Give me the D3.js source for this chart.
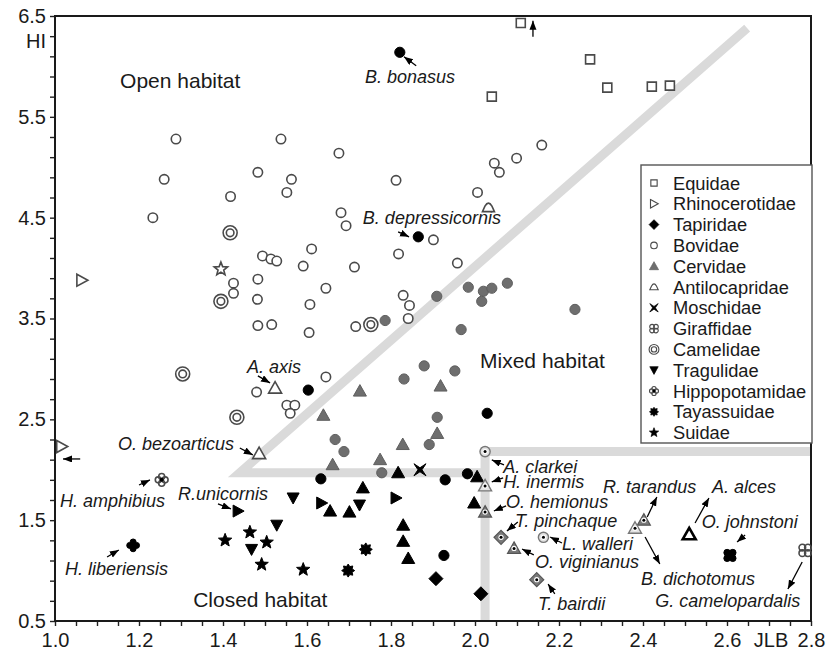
<!DOCTYPE html>
<html>
<head>
<meta charset="utf-8">
<script src="https://cdnjs.cloudflare.com/ajax/libs/d3/7.8.5/d3.min.js"></script>
<style>
    body { margin: 0; background: #fff; }
    svg text { font-family: "Liberation Sans", Arial, sans-serif; fill: #1a1a1a; }
    .species { font-style: italic; font-size: 18px; }
    .region { font-size: 21px; }
    .legend-label { font-size: 18.3px; }
</style>
</head>
<body>
<div id="chart"></div>
<script>
// [JLB, HI, habitat group]  O = open, M = mixed, C = closed, * = marked, B = bold outline
const equidae = [[2.109, 6.43, "O"], [2.274, 6.07, "O"], [2.040, 5.70, "O"], [2.315, 5.79, "O"], [2.421, 5.80, "O"], [2.464, 5.81, "O"]];
const rhinocerotidae = [[1.064, 3.88, "O"], [1.016, 2.23, "O"], [1.436, 1.59, "C"], [1.812, 1.72, "C"], [1.635, 1.67, "C"]];
const tapiridae = [[1.907, 0.92, "C"], [2.014, 0.77, "C"], [2.062, 1.33, "M*"], [2.147, 0.91, "M*"]];
const bovidae = [
    [1.288, 5.28, "O"], [1.538, 5.28, "O"], [1.676, 5.14, "O"], [1.483, 4.95, "O"], [1.260, 4.88, "O"],
    [1.563, 4.88, "O"], [1.552, 4.75, "O"], [1.418, 4.71, "O"], [1.812, 4.87, "O"], [1.681, 4.55, "O"],
    [1.233, 4.50, "O"], [1.693, 4.42, "O"], [1.901, 4.28, "O"], [1.818, 4.14, "O"], [1.611, 4.19, "O"],
    [1.591, 4.02, "O"], [1.713, 4.01, "O"], [1.494, 4.12, "O"], [1.514, 4.09, "O"], [1.528, 4.07, "O"],
    [1.425, 3.85, "O"], [1.425, 3.75, "O"], [1.483, 3.89, "O"], [1.482, 3.69, "O"], [1.645, 3.80, "O"],
    [1.607, 3.64, "O"], [1.829, 3.73, "O"], [1.844, 3.63, "O"], [1.483, 3.43, "O"], [1.516, 3.44, "O"],
    [1.605, 3.36, "O"], [1.716, 3.42, "O"], [1.841, 3.50, "O"], [1.480, 2.77, "O"], [1.645, 2.92, "O"],
    [1.552, 2.64, "O"], [1.571, 2.64, "O"], [1.560, 2.56, "O"], [2.159, 5.22, "O"], [2.099, 5.09, "O"],
    [2.046, 5.04, "O"], [2.058, 4.95, "O"], [2.006, 4.75, "O"], [1.958, 4.05, "O"],
    [1.786, 3.48, "M"], [1.909, 3.72, "M"], [1.984, 3.81, "M"], [2.020, 3.77, "M"], [2.040, 3.80, "M"],
    [2.016, 3.67, "M"], [2.077, 3.85, "M"], [2.238, 3.59, "M"], [1.967, 3.39, "M"], [1.879, 3.03, "M"],
    [1.831, 2.90, "M"], [1.952, 2.98, "M"], [1.910, 2.52, "M"], [1.891, 2.25, "M"], [1.667, 2.30, "M"],
    [1.688, 2.18, "M"], [1.778, 1.97, "M"],
    [1.821, 6.14, "C"], [1.865, 4.31, "C"], [1.603, 2.79, "C"], [2.029, 2.56, "C"], [1.633, 1.91, "C"],
    [1.929, 1.90, "C"], [1.982, 1.96, "C"], [1.926, 1.15, "C"],
    [2.024, 2.18, "O*"], [2.163, 1.33, "O*"]
];
const cervidae = [
    [1.726, 2.78, "M"], [1.639, 2.54, "M"], [1.918, 2.83, "M"], [1.910, 2.36, "M"], [1.828, 2.25, "M"],
    [1.661, 2.05, "M"], [1.774, 2.10, "M"],
    [1.524, 2.81, "O"], [1.486, 2.16, "O"],
    [1.817, 1.97, "C"], [2.005, 1.93, "C"], [1.998, 1.67, "C"], [1.655, 1.59, "C"], [1.701, 1.58, "C"],
    [1.733, 1.82, "C"], [1.829, 1.45, "C"], [1.829, 1.29, "C"], [1.841, 1.12, "C"],
    [2.024, 1.84, "O*"], [2.024, 1.58, "M*"], [2.093, 1.22, "M*"], [2.402, 1.50, "M*"], [2.381, 1.42, "O*"],
    [2.510, 1.36, "B"]
];
const antilocapridae = [[2.032, 4.60, "O"]];
const moschidae = [[1.869, 2.00, "C"]];
const giraffidae = [[2.607, 1.15, "C"], [2.786, 1.20, "O"]];
const camelidae = [[1.417, 4.35, "O"], [1.395, 3.67, "O"], [1.752, 3.44, "O"], [1.304, 2.95, "O"], [1.433, 2.52, "O"]];
const tragulidae = [[1.567, 1.72, "C"], [1.725, 1.65, "C"], [1.528, 1.45, "C"], [1.468, 1.21, "C"]];
const hippopotamidae = [[1.254, 1.90, "O"], [1.186, 1.25, "C"]];
const tayassuidae = [[1.740, 1.21, "C"], [1.698, 1.00, "C"]];
const suidae = [[1.405, 1.30, "C"], [1.464, 1.38, "C"], [1.504, 1.28, "C"], [1.492, 1.06, "C"], [1.591, 1.01, "C"], [1.395, 3.99, "O"]];

// species names [text, JLB, HI] (text start, baseline)
const speciesLabels = [
    ["B. bonasus", 1.738, 5.837], ["B. depressicornis", 1.733, 4.439], ["A. axis", 1.457, 2.960],
    ["O. bezoarticus", 1.150, 2.196], ["H. amphibius", 1.012, 1.631], ["R.unicornis", 1.293, 1.700],
    ["H. liberiensis", 1.024, 0.956], ["A. clarkei", 2.067, 1.968], ["H. inermis", 2.067, 1.819],
    ["O. hemionus", 2.074, 1.621], ["T. pinchaque", 2.095, 1.433], ["L. walleri", 2.207, 1.204],
    ["O. viginianus", 2.143, 1.026], ["T. bairdii", 2.150, 0.609], ["R. tarandus", 2.305, 1.770],
    ["A. alces", 2.564, 1.770], ["O. johnstoni", 2.540, 1.423], ["B. dichotomus", 2.395, 0.857],
    ["G. camelopardalis", 2.429, 0.639]
];
// pointers [fromJLB, fromHI, toJLB, toHI]
const pointers = [
    [1.860, 6.006, 1.831, 6.095], [1.817, 4.359, 1.843, 4.310], [1.483, 2.931, 1.512, 2.861],
    [1.440, 2.216, 1.471, 2.147], [1.200, 1.849, 1.226, 1.899], [1.388, 1.661, 1.419, 1.611],
    [1.124, 1.135, 1.152, 1.204], [2.069, 2.048, 2.040, 2.097], [2.067, 1.919, 2.040, 1.879],
    [2.074, 1.641, 2.045, 1.591], [2.102, 1.482, 2.076, 1.393], [2.207, 1.274, 2.179, 1.333],
    [2.140, 1.155, 2.112, 1.214], [2.190, 0.768, 2.174, 0.867], [2.410, 1.532, 2.433, 1.730],
    [2.405, 1.333, 2.440, 1.065], [2.524, 1.472, 2.557, 1.720], [2.643, 1.353, 2.624, 1.284],
    [2.779, 1.085, 2.745, 0.817], [2.138, 6.294, 2.138, 6.452], [1.060, 2.107, 1.019, 2.107]
];
const regionLabels = [["Open habitat", 1.155, 5.79], ["Mixed habitat", 2.012, 3.01], ["Closed habitat", 1.329, 0.639]];

// habitat boundaries
const diagonalBand = [[2.648, 6.38], [1.44, 1.97], [2.024, 1.97]];
const cornerBand = [[2.8, 2.18], [2.024, 2.18], [2.024, 0.5]];

const yTicks = d3.range(31).map(i => +(0.5 + i * 0.2).toFixed(2));
const yLabels = [0.5, 1.5, 2.5, 3.5, 4.5, 5.5, 6.5];
const xTicks = d3.range(37).map(i => +(1 + i * 0.05).toFixed(2));
const xLabels = [1.0, 1.2, 1.4, 1.6, 1.8, 2.0, 2.2, 2.4, 2.6, 2.8];

const families = [
    { name: "Equidae", shape: "square", points: equidae, key: "O" },
    { name: "Rhinocerotidae", shape: "right", points: rhinocerotidae, key: "O" },
    { name: "Tapiridae", shape: "diamond", points: tapiridae, key: "C" },
    { name: "Bovidae", shape: "circle", points: bovidae, key: "O" },
    { name: "Cervidae", shape: "up", points: cervidae, key: "M" },
    { name: "Antilocapridae", shape: "dome", points: antilocapridae, key: "O" },
    { name: "Moschidae", shape: "cross", points: moschidae, key: "C" },
    { name: "Giraffidae", shape: "giraffe", points: giraffidae, key: "O" },
    { name: "Camelidae", shape: "camel", points: camelidae, key: "O" },
    { name: "Tragulidae", shape: "down", points: tragulidae, key: "C" },
    { name: "Hippopotamidae", shape: "hippo", points: hippopotamidae, key: "O" },
    { name: "Tayassuidae", shape: "burst", points: tayassuidae, key: "C" },
    { name: "Suidae", shape: "star", points: suidae, key: "C" }
];

// fill, stroke, stroke width for each habitat group
const looks = {
    "O": ["#fff", "#4a4a4a", 1.6],
    "M": ["#6e6e6e", "#5e5e5e", 1],
    "C": ["#000", "#000", 1],
    "O*": ["#e2e2e2", "#777", 1.4],
    "M*": ["#7a7a7a", "#555", 1.2],
    "B": ["#fff", "#000", 2.6]
};

function starPath(n, outer, inner) {
    const p = [];
    for (let i = 0; i < 2 * n; i++) {
        const a = Math.PI * i / n - Math.PI / 2;
        const r = i % 2 ? inner : outer;
        p.push([(r * Math.cos(a)).toFixed(2), (r * Math.sin(a)).toFixed(2)]);
    }
    return "M" + p.join("L") + "Z";
}

function drawSymbol(g, shape, code, k) {
    const [fill, stroke, sw] = looks[code];
    const s = g.append("g").attr("transform", `scale(${k})`);
    const path = d => s.append("path").attr("d", d)
        .attr("fill", fill).attr("stroke", stroke).attr("stroke-width", sw);
    const ring = (cx, cy, r, f) => s.append("circle").attr("cx", cx).attr("cy", cy).attr("r", r)
        .attr("fill", f).attr("stroke", stroke).attr("stroke-width", sw);

    switch (shape) {
        case "square": path("M-4.5,-4.5H4.5V4.5H-4.5Z"); break;
        case "right": path("M-5,-6L6,0L-5,6Z"); break;
        case "diamond": path("M0,-7L7,0L0,7L-7,0Z"); break;
        case "circle": ring(0, 0, code === "O" ? 4.7 : 5.1, fill); break;
        case "up": path("M0,-6.5L6.5,5L-6.5,5Z"); break;
        case "down": path("M-6,-5L6,-5L0,6Z"); break;
        case "dome": path("M-6,4L6,4L3.5,-1.5Q0,-7.5 -3.5,-1.5Z"); break;
        case "cross": path("M-6,-6L0,-2L6,-6L2,0L6,6L0,2L-6,6L-2,0Z"); break;
        case "burst": path(starPath(8, 6.5, 4.3)); break;
        case "star": path(starPath(5, 7, 3)); break;
        case "camel":
            ring(0, 0, 7, fill);
            ring(0, 0, 3.8, "none");
            break;
        case "giraffe": {
            const f = code === "C" ? fill : "none";
            [[-2.8, -2.8], [2.8, -2.8], [2.8, 2.8], [-2.8, 2.8]].forEach(c => ring(c[0], c[1], 3.3, f));
            if (code === "C") s.append("rect").attr("x", -3).attr("y", -3).attr("width", 6).attr("height", 6).attr("fill", fill);
            break;
        }
        case "hippo": {
            const f = code === "C" ? fill : "none";
            [[0, -3.4], [3.4, 0], [0, 3.4], [-3.4, 0]].forEach(c => ring(c[0], c[1], 3, f));
            s.append("circle").attr("r", 2).attr("fill", "#000");
            break;
        }
    }
    if (code.endsWith("*")) {
        s.append("circle").attr("r", 2.6).attr("fill", "#fff");
        s.append("circle").attr("r", 1.5).attr("fill", "#000");
    }
}

const svg = d3.select("#chart").append("svg")
    .attr("width", 826).attr("height", 657);

const x = d3.scaleLinear().domain([1.0, 2.8]).range([55, 811]);
const y = d3.scaleLinear().domain([0.5, 6.5]).range([621, 16]);

svg.append("defs").append("marker")
    .attr("id", "head")
    .attr("markerUnits", "userSpaceOnUse")
    .attr("markerWidth", 10).attr("markerHeight", 8)
    .attr("refX", 9).attr("refY", 3.5)
    .attr("orient", "auto")
    .append("path").attr("d", "M0,0L9,3.5L0,7Z").attr("fill", "#000");

// Gray habitat boundaries
const line = d3.line().x(d => x(d[0])).y(d => y(d[1]));
[diagonalBand, cornerBand].forEach(b => {
    svg.append("path")
        .attr("d", line(b))
        .attr("fill", "none")
        .attr("stroke", "#dadada")
        .attr("stroke-width", 9);
});

// Axes
const yAxis = svg.append("g")
    .attr("transform", `translate(${x(1.0)},0)`)
    .call(d3.axisLeft(y).tickValues(yTicks).tickSize(5).tickSizeOuter(0).tickPadding(4)
        .tickFormat(d => yLabels.includes(d) ? d.toFixed(1) : ""));
const xAxis = svg.append("g")
    .attr("transform", `translate(0,${y(0.5)})`)
    .call(d3.axisBottom(x).tickValues(xTicks).tickSize(5).tickSizeOuter(0).tickPadding(7)
        .tickFormat(d => xLabels.includes(d) ? d.toFixed(1) : ""));
[xAxis, yAxis].forEach(a => {
    a.attr("color", "#222").attr("font-size", 20).attr("font-family", null);
    a.select(".domain").remove();
    a.selectAll(".tick line").attr("stroke-width", 1.4);
});

svg.append("rect")
    .attr("x", x(1.0)).attr("y", y(6.5))
    .attr("width", x(2.8) - x(1.0)).attr("height", y(0.5) - y(6.5))
    .attr("fill", "none").attr("stroke", "#1a1a1a").attr("stroke-width", 2);

svg.append("text").attr("x", 46).attr("y", 48).attr("text-anchor", "end")
    .attr("font-size", 20).text("HI");
svg.append("text").attr("x", x(2.705)).attr("y", 647).attr("text-anchor", "middle")
    .attr("font-size", 20).text("JLB");

// Region names
svg.selectAll(".region").data(regionLabels).enter()
    .append("text").attr("class", "region")
    .attr("x", d => x(d[1])).attr("y", d => y(d[2]))
    .text(d => d[0]);

// Pointers and species names
svg.selectAll(".pointer").data(pointers).enter()
    .append("line").attr("class", "pointer")
    .attr("x1", d => x(d[0])).attr("y1", d => y(d[1]))
    .attr("x2", d => x(d[2])).attr("y2", d => y(d[3]))
    .attr("stroke", "#000").attr("stroke-width", 1.3)
    .attr("marker-end", "url(#head)");

svg.selectAll(".species").data(speciesLabels).enter()
    .append("text").attr("class", "species")
    .attr("x", d => x(d[1])).attr("y", d => y(d[2]))
    .text(d => d[0]);

// Points
families.forEach(f => {
    f.points.forEach(p => {
        const g = svg.append("g").attr("transform", `translate(${x(p[0])},${y(p[1])})`);
        drawSymbol(g, f.shape, p[2], 1);
    });
});

// Legend
const legend = svg.append("g").attr("transform", "translate(641,165)");
legend.append("rect")
    .attr("width", 171).attr("height", 278)
    .attr("fill", "#fff").attr("stroke", "#555").attr("stroke-width", 1.4);
families.forEach((f, i) => {
    const row = legend.append("g").attr("transform", `translate(0,${18 + i * 20.8})`);
    drawSymbol(row.append("g").attr("transform", "translate(13,0)"), f.shape, f.key, 0.7);
    row.append("text").attr("class", "legend-label")
        .attr("x", 32).attr("y", 6.5).text(f.name);
});
</script>
</body>
</html>
